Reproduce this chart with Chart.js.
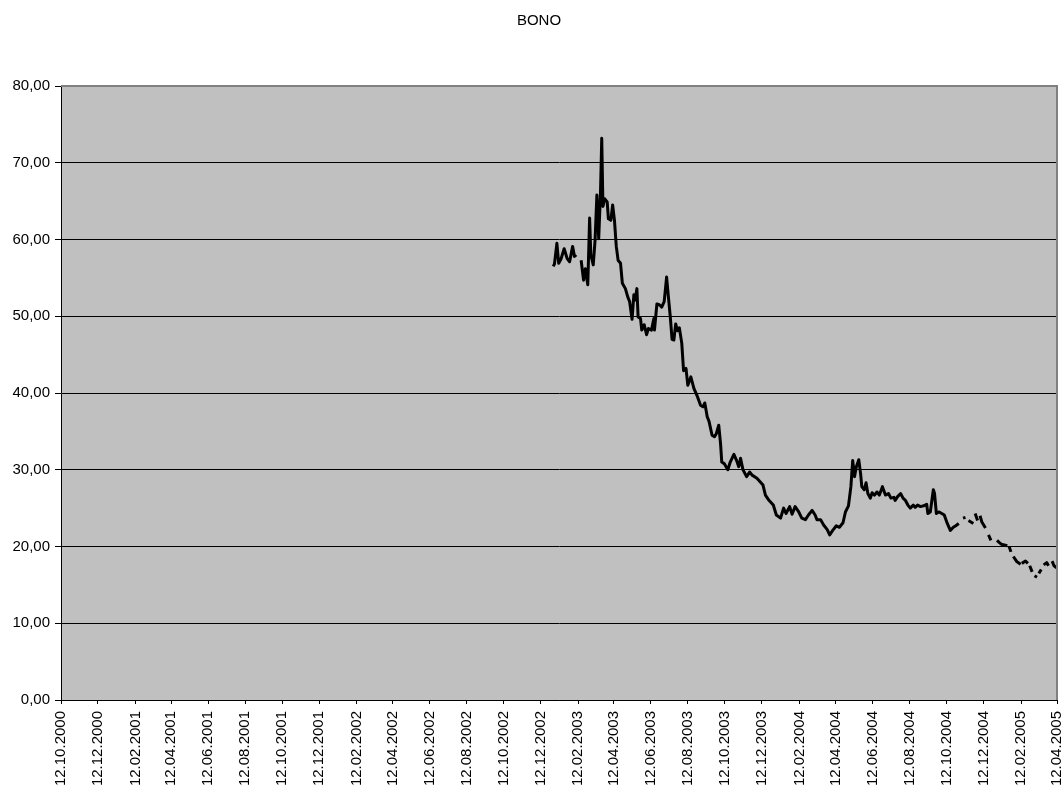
<!DOCTYPE html>
<html>
<head>
<meta charset="utf-8">
<title>BONO</title>
<script src="https://cdn.jsdelivr.net/npm/chart.js@4.4.1/dist/chart.umd.min.js"></script>
<style>
  html, body { margin: 0; padding: 0; background: #fff; }
  canvas { display: block; }
</style>
</head>
<body>
<canvas id="bono" width="1061" height="785"></canvas>
<script>
// x axis labels, every two months
const tickLabels = [
  '12.10.2000', '12.12.2000', '12.02.2001', '12.04.2001', '12.06.2001', '12.08.2001',
  '12.10.2001', '12.12.2001', '12.02.2002', '12.04.2002', '12.06.2002', '12.08.2002',
  '12.10.2002', '12.12.2002', '12.02.2003', '12.04.2003', '12.06.2003', '12.08.2003',
  '12.10.2003', '12.12.2003', '12.02.2004', '12.04.2004', '12.06.2004', '12.08.2004',
  '12.10.2004', '12.12.2004', '12.02.2005', '12.04.2005'
];

// quote dates (null value = no quote, line is broken there)
const dates = [
  '02.01.2003', '04.01.2003', '08.01.2003', '11.01.2003', '15.01.2003', '20.01.2003',
  '25.01.2003', '29.01.2003', '03.02.2003', '06.02.2003', '09.02.2003', '12.02.2003',
  '17.02.2003', '21.02.2003', '24.02.2003', '28.02.2003', '03.03.2003', '05.03.2003',
  '09.03.2003', '12.03.2003', '15.03.2003', '18.03.2003', '21.03.2003', '23.03.2003',
  '25.03.2003', '28.03.2003', '01.04.2003', '03.04.2003', '07.04.2003', '10.04.2003',
  '13.04.2003', '16.04.2003', '19.04.2003', '23.04.2003', '26.04.2003', '01.05.2003',
  '05.05.2003', '08.05.2003', '12.05.2003', '15.05.2003', '17.05.2003', '20.05.2003',
  '22.05.2003', '26.05.2003', '28.05.2003', '01.06.2003', '05.06.2003', '08.06.2003',
  '13.06.2003', '17.06.2003', '18.06.2003', '22.06.2003', '26.06.2003', '30.06.2003',
  '04.07.2003', '08.07.2003', '11.07.2003', '14.07.2003', '17.07.2003', '20.07.2003',
  '23.07.2003', '26.07.2003', '29.07.2003', '02.08.2003', '05.08.2003', '09.08.2003',
  '12.08.2003', '17.08.2003', '22.08.2003', '27.08.2003', '02.09.2003', '06.09.2003',
  '09.09.2003', '13.09.2003', '16.09.2003', '21.09.2003', '25.09.2003', '28.09.2003',
  '02.10.2003', '05.10.2003', '07.10.2003', '11.10.2003', '17.10.2003', '21.10.2003',
  '27.10.2003', '31.10.2003', '04.11.2003', '07.11.2003', '11.11.2003', '17.11.2003',
  '22.11.2003', '26.11.2003', '04.12.2003', '14.12.2003', '18.12.2003', '23.12.2003',
  '31.12.2003',
  '05.01.2004', '12.01.2004', '17.01.2004', '21.01.2004', '27.01.2004', '31.01.2004',
  '05.02.2004', '11.02.2004', '16.02.2004', '22.02.2004', '27.02.2004', '04.03.2004',
  '09.03.2004', '12.03.2004', '18.03.2004', '23.03.2004', '29.03.2004', '02.04.2004',
  '07.04.2004', '13.04.2004', '18.04.2004', '24.04.2004', '28.04.2004', '03.05.2004',
  '07.05.2004', '10.05.2004', '13.05.2004', '16.05.2004', '20.05.2004', '23.05.2004',
  '25.05.2004', '29.05.2004', '01.06.2004', '04.06.2004', '08.06.2004', '11.06.2004',
  '15.06.2004', '19.06.2004', '23.06.2004', '28.06.2004', '03.07.2004', '08.07.2004',
  '12.07.2004', '17.07.2004', '19.07.2004', '23.07.2004', '28.07.2004', '01.08.2004',
  '05.08.2004', '09.08.2004', '13.08.2004', '18.08.2004', '21.08.2004', '25.08.2004',
  '30.08.2004', '04.09.2004', '09.09.2004', '11.09.2004', '15.09.2004', '20.09.2004',
  '22.09.2004', '25.09.2004', '29.09.2004', '04.10.2004', '08.10.2004', '13.10.2004',
  '18.10.2004', '23.10.2004', '27.10.2004', '01.11.2004', '04.11.2004', '08.11.2004',
  '12.11.2004', '14.11.2004', '17.11.2004', '25.11.2004', '27.11.2004', '28.11.2004',
  '02.12.2004', '03.12.2004', '06.12.2004', '09.12.2004', '15.12.2004', '17.12.2004',
  '20.12.2004', '24.12.2004', '28.12.2004',
  '03.01.2005', '07.01.2005', '10.01.2005', '20.01.2005', '21.01.2005', '23.01.2005',
  '26.01.2005', '27.01.2005', '30.01.2005', '05.02.2005', '11.02.2005', '12.02.2005',
  '13.02.2005', '19.02.2005', '23.02.2005', '24.02.2005', '26.02.2005', '02.03.2005',
  '04.03.2005', '06.03.2005', '10.03.2005', '11.03.2005', '13.03.2005', '17.03.2005',
  '19.03.2005', '21.03.2005', '26.03.2005', '29.03.2005', '31.03.2005', '04.04.2005',
  '07.04.2005', '12.04.2005'
];

const bono = [
  56.5, 56.8, 59.5, 56.9, 57.5, 58.8,
  57.5, 57.1, 59.1, 57.8, 58.0, null,
  57.3, 54.7, 56.2, 54.1, 62.8, 58.0,
  56.7, 59.9, 65.8, 60.1, 66.2, 73.2,
  64.3, 65.3, 64.9, 62.7, 62.5, 64.5,
  62.5, 59.1, 57.3, 56.9, 54.3, 53.6,
  52.5, 51.9, 49.6, 52.8, 52.1, 53.6,
  49.9, 49.7, 48.2, 48.9, 47.6, 48.4,
  48.2, 49.7, 48.2, 51.6, 51.5, 51.2,
  51.9, 55.1, 52.5, 50.0, 47.0, 46.9,
  49.0, 48.1, 48.5, 46.5, 42.9, 43.2,
  41.0, 42.1, 40.6, 39.7, 38.4, 38.2,
  38.7, 36.9, 36.3, 34.5, 34.3, 34.7,
  35.8, 33.4, 31.0, 30.8, 30.0, 31.0,
  32.0, 31.3, 30.4, 31.5, 30.0, 29.1,
  29.7, 29.3, 28.9, 28.0, 26.7, 26.1,
  25.4,
  24.1, 23.7, 25.0, 24.3, 25.2, 24.2,
  25.2, 24.5, 23.7, 23.5, 24.1, 24.7,
  24.1, 23.5, 23.5, 22.8, 22.2, 21.5,
  22.1, 22.7, 22.5, 23.1, 24.5, 25.3,
  27.8, 31.2, 29.1, 30.4, 31.3, 29.5,
  27.8, 27.4, 28.3, 26.9, 26.3, 27.0,
  26.7, 27.1, 26.7, 27.8, 26.7, 26.9,
  26.3, 26.4, 26.0, 26.5, 26.9, 26.3,
  26.0, 25.4, 25.0, 25.4, 25.1, 25.4,
  25.2, 25.3, 25.5, 24.3, 24.5, 27.4,
  26.9, 24.3, 24.5, 24.3, 24.1, 23.0,
  22.1, 22.5, 22.7, 23.0, null, 23.7,
  23.8, null, 23.4, 23.0, null, 24.3,
  23.4, null, 24.0, 23.2, 22.4, null,
  21.5, 20.8, null,
  20.8, 20.5, 20.3, 20.1, null, 20.0,
  19.3, null, 18.7, 18.0, 17.7, null,
  17.8, 18.1, 17.8, null, 17.5, 16.7,
  null, 16.2, 16.0, null, 16.5, 17.0,
  null, 17.6, 17.9, 17.5, null, 18.1,
  17.5, 17.2
];

const FONT = "'Liberation Sans', Arial, sans-serif";

// "dd.mm.yyyy" -> day number
function toDay(s) {
  const p = s.split('.');
  return Date.UTC(+p[2], +p[1] - 1, +p[0]) / 86400000;
}

function fromDay(v) {
  const d = new Date(v * 86400000);
  const pad = n => String(n).padStart(2, '0');
  return pad(d.getUTCDate()) + '.' + pad(d.getUTCMonth() + 1) + '.' + d.getUTCFullYear();
}

const tickDays = tickLabels.map(toDay);
const points = dates.map((d, i) => ({ x: toDay(d), y: bono[i] }));

// grey plot area, its frame and the title
const plotFrame = {
  id: 'plotFrame',
  beforeDraw(chart) {
    const { ctx, chartArea: a } = chart;
    ctx.save();
    ctx.fillStyle = '#fff';
    ctx.fillRect(0, 0, chart.width, chart.height);
    ctx.fillStyle = '#c0c0c0';
    ctx.fillRect(a.left, a.top, a.right - a.left, a.bottom - a.top);
    ctx.restore();
  },
  afterDraw(chart) {
    const { ctx, chartArea: a } = chart;
    ctx.save();
    ctx.strokeStyle = '#808080';
    ctx.lineWidth = 2;
    ctx.beginPath();
    ctx.moveTo(a.left, a.top);
    ctx.lineTo(a.right, a.top);
    ctx.lineTo(a.right, a.bottom);
    ctx.stroke();
    ctx.fillStyle = '#000';
    ctx.font = '15px ' + FONT;
    ctx.textAlign = 'center';
    ctx.textBaseline = 'middle';
    ctx.fillText('BONO', 539, 21);
    ctx.restore();
  }
};

new Chart(document.getElementById('bono'), {
  type: 'line',
  data: {
    datasets: [{
      label: 'BONO',
      data: points,
      borderColor: '#000',
      borderWidth: 3,
      borderJoinStyle: 'round',
      pointRadius: 0,
      tension: 0,
      spanGaps: false,
      fill: false
    }]
  },
  options: {
    responsive: false,
    animation: false,
    layout: { padding: { top: 86, right: 4, left: 0, bottom: 0 } },
    plugins: {
      legend: { display: false },
      tooltip: { enabled: false },
      title: { display: false }
    },
    scales: {
      x: {
        type: 'linear',
        min: tickDays[0],
        max: tickDays[tickDays.length - 1],
        afterBuildTicks: scale => {
          scale.ticks = tickDays.map(v => ({ value: v }));
        },
        afterFit: scale => {
          scale.height = 85;
          scale.paddingLeft = 0;
          scale.paddingRight = 0;
        },
        grid: {
          drawOnChartArea: false,
          drawTicks: true,
          tickLength: 4,
          tickColor: '#000'
        },
        border: { color: '#000', width: 1 },
        ticks: {
          autoSkip: false,
          minRotation: 90,
          maxRotation: 90,
          padding: 7,
          color: '#000',
          font: { family: FONT, size: 15 },
          callback: v => fromDay(v)
        }
      },
      y: {
        min: 0,
        max: 80,
        afterFit: scale => {
          scale.width = 61;
          scale.paddingTop = 0;
          scale.paddingBottom = 0;
        },
        grid: {
          color: c => (c.tick && c.tick.value === 80 ? '#808080' : '#000'),
          lineWidth: 1,
          tickLength: 6,
          tickColor: '#000'
        },
        border: { color: '#000', width: 1 },
        ticks: {
          stepSize: 10,
          padding: 5,
          color: '#000',
          font: { family: FONT, size: 15 },
          callback: v => v.toFixed(2).replace('.', ',')
        }
      }
    }
  },
  plugins: [plotFrame]
});
</script>
</body>
</html>
